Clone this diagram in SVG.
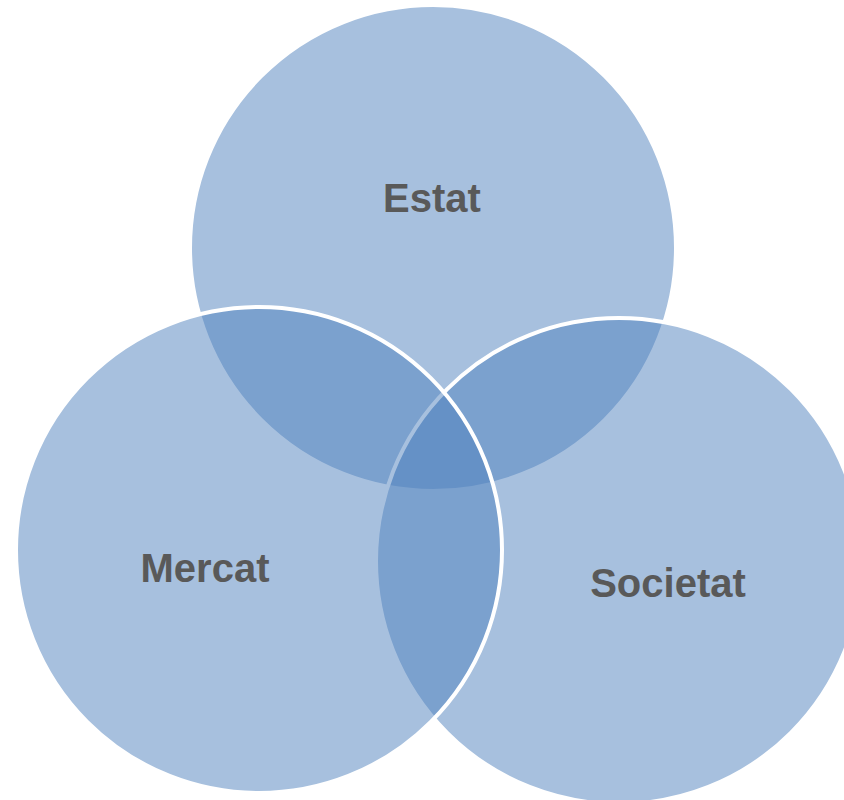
<svg xmlns="http://www.w3.org/2000/svg" width="844" height="800" viewBox="0 0 844 800">
<style>
.c{fill:#4f81bd;fill-opacity:0.5;stroke:#ffffff;stroke-width:4}
.t{font-family:"Liberation Sans",Arial,sans-serif;font-weight:bold;font-size:40px;fill:#595959;text-anchor:middle}
</style>
<rect width="844" height="800" fill="#ffffff"/>
<g id="estat"><circle class="c" cx="433" cy="248" r="243"/><text class="t" x="432" y="212">Estat</text></g>
<g id="societat"><circle class="c" cx="619" cy="561" r="243"/></g>
<g id="mercat"><circle class="c" cx="259" cy="550" r="243"/></g>
<g id="labels">
<text class="t" x="205" y="582">Mercat</text>
<text class="t" x="668" y="597">Societat</text>
</g>
</svg>
